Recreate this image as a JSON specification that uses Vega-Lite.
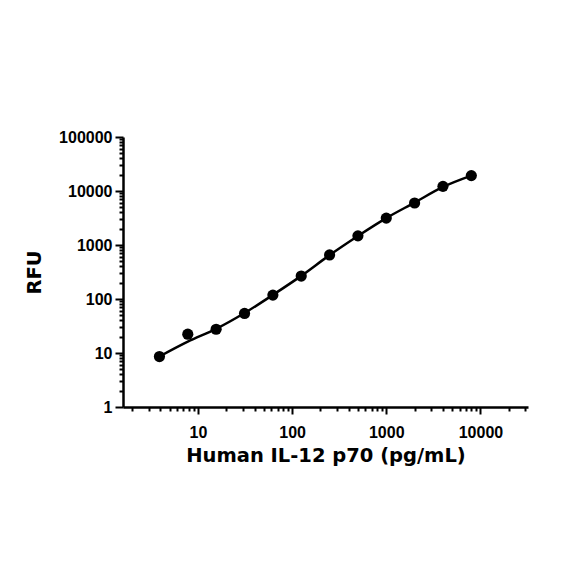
{
  "$schema": "https://vega.github.io/schema/vega-lite/v6.json",
  "width": 405,
  "height": 270,
  "autosize": "none",
  "padding": {"left": 123, "top": 137, "right": 56, "bottom": 177},
  "background": "white",
  "config": {
    "view": {"stroke": null},
    "axis": {
      "grid": false,
      "domainColor": "black",
      "domainWidth": 2.5,
      "tickColor": "black",
      "tickWidth": 2,
      "labelFont": "Liberation Sans",
      "labelFontWeight": "bold",
      "labelFontSize": 16,
      "labelColor": "black",
      "labelOverlap": false,
      "labelFlush": false,
      "titleFont": "DejaVu Sans",
      "titleFontWeight": "bold",
      "titleFontSize": 19.5,
      "titleColor": "black"
    }
  },
  "datasets": {
    "points": [
      {"conc": 3.9, "rfu": 8.6},
      {"conc": 7.8, "rfu": 22.3},
      {"conc": 15.6, "rfu": 27.5},
      {"conc": 31.25, "rfu": 54},
      {"conc": 62.5, "rfu": 118},
      {"conc": 125, "rfu": 266},
      {"conc": 250, "rfu": 655},
      {"conc": 500, "rfu": 1476},
      {"conc": 1000, "rfu": 3150},
      {"conc": 2000, "rfu": 6000},
      {"conc": 4000, "rfu": 12200},
      {"conc": 8000, "rfu": 19300}
    ],
    "curve": [
      {"conc": 3.9, "rfu": 8.6},
      {"conc": 7.8, "rfu": 16.2},
      {"conc": 15.6, "rfu": 28},
      {"conc": 31.25, "rfu": 55},
      {"conc": 62.5, "rfu": 119},
      {"conc": 125, "rfu": 268},
      {"conc": 250, "rfu": 650},
      {"conc": 500, "rfu": 1470},
      {"conc": 1000, "rfu": 3150},
      {"conc": 2000, "rfu": 6100},
      {"conc": 4000, "rfu": 11900},
      {"conc": 8000, "rfu": 19300}
    ]
  },
  "encoding": {
    "x": {
      "field": "conc",
      "type": "quantitative",
      "scale": {"type": "log", "domain": [1.6, 32000], "nice": false, "zero": false},
      "axis": {
        "title": "Human IL-12 p70 (pg/mL)",
        "values": [2,3,4,5,6,7,8,9,10,20,30,40,50,60,70,80,90,100,200,300,400,500,600,700,800,900,1000,2000,3000,4000,5000,6000,7000,8000,9000,10000,20000,30000],
        "format": "d",
        "labelExpr": "indexof([10,100,1000,10000], datum.value) >= 0 ? datum.label : ''",
        "tickSize": {"condition": {"test": "indexof([10,100,1000,10000], datum.value) >= 0", "value": 7}, "value": 4},
        "labelPadding": 10,
        "titleY": 48,
        "titleBaseline": "middle"
      }
    },
    "y": {
      "field": "rfu",
      "type": "quantitative",
      "scale": {"type": "log", "domain": [1, 100000], "nice": false, "zero": false},
      "axis": {
        "title": "RFU",
        "values": [1,2,3,4,5,6,7,8,9,10,20,30,40,50,60,70,80,90,100,200,300,400,500,600,700,800,900,1000,2000,3000,4000,5000,6000,7000,8000,9000,10000,20000,30000,40000,50000,60000,70000,80000,90000,100000],
        "format": "d",
        "labelExpr": "indexof([1,10,100,1000,10000,100000], datum.value) >= 0 ? datum.label : ''",
        "tickSize": {"condition": {"test": "indexof([1,10,100,1000,10000,100000], datum.value) >= 0", "value": 8}, "value": 4},
        "labelPadding": 3,
        "titleX": -89,
        "titleBaseline": "middle"
      }
    }
  },
  "layer": [
    {
      "data": {"name": "curve"},
      "mark": {"type": "line", "interpolate": "monotone", "color": "black", "strokeWidth": 2.5}
    },
    {
      "data": {"name": "points"},
      "mark": {"type": "circle", "size": 125, "color": "black", "opacity": 1}
    }
  ]
}
